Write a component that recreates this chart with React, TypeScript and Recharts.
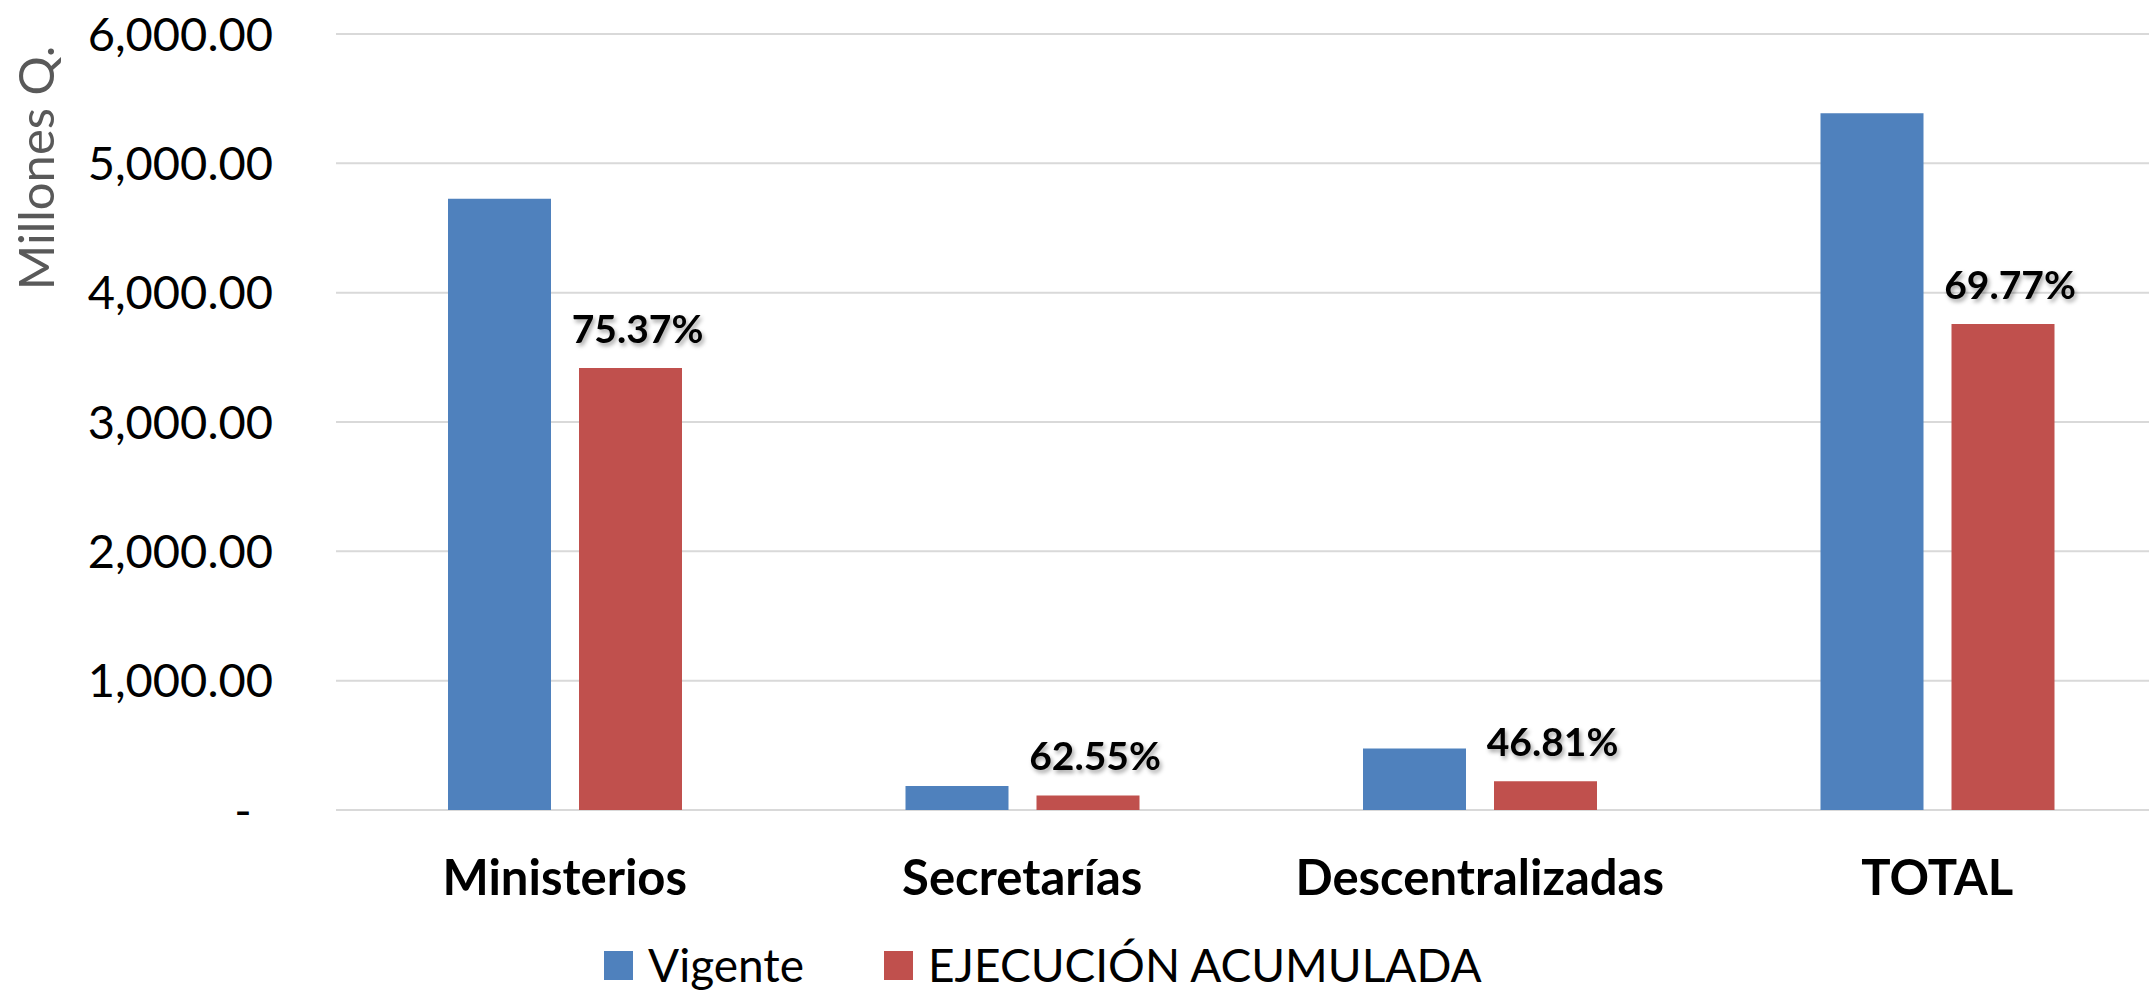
import { Bar, BarChart, CartesianGrid, LabelList, Legend, XAxis, YAxis } from "recharts";

const CATEGORIES = ["Ministerios", "Secretarías", "Descentralizadas", "TOTAL"];
const VIGENTE = [4726, 185, 476, 5388];
const EJECUCION = [3418, 113, 222, 3758];
const PERCENTS = ["75.37%", "62.55%", "46.81%", "69.77%"];
const Y_TICKS = [0, 1000, 2000, 3000, 4000, 5000, 6000];

const BLUE = "#4F81BD";
const RED = "#C0504D";
const FONT = "Lato, 'Noto Sans', sans-serif";

const data = CATEGORIES.map((name, i) => ({
  name,
  vigente: VIGENTE[i],
  ejecucion: EJECUCION[i],
  pct: PERCENTS[i],
}));

const fmt = (v: number) =>
  v === 0 ? "-" : v.toLocaleString("en-US", { minimumFractionDigits: 2, maximumFractionDigits: 2 });

function YTick({ x, y, payload }: any) {
  const zero = payload.value === 0;
  return (
    <text
      x={zero ? x - 30 : x}
      y={y}
      dy="0.355em"
      textAnchor={zero ? "middle" : "end"}
      fill="#000"
      fontSize={47}
      fontFamily={FONT}
    >
      {fmt(payload.value)}
    </text>
  );
}

function XTick({ x, y, payload }: any) {
  return (
    <text x={x} y={y} dy="0.71em" textAnchor="middle" fill="#000" fontSize={49} fontWeight={700} fontFamily={FONT}>
      {payload.value}
    </text>
  );
}

function PctLabel({ x, y, width, index }: any) {
  return (
    <text
      x={x + width / 2 + 7}
      y={y - 25}
      textAnchor="middle"
      fill="#000"
      fontSize={39}
      fontWeight={700}
      fontFamily={FONT}
      style={{ filter: "drop-shadow(2px 3px 2px rgba(0,0,0,0.35))" }}
    >
      {PERCENTS[index]}
    </text>
  );
}

function LegendBox() {
  const items = [
    { label: "Vigente", color: BLUE },
    { label: "EJECUCIÓN ACUMULADA", color: RED },
  ];
  return (
    <div style={{ display: "flex", alignItems: "center", height: 48, paddingLeft: 604, fontFamily: FONT }}>
      {items.map((it) => (
        <span key={it.label} style={{ display: "flex", alignItems: "center", marginRight: 80 }}>
          <span style={{ width: 29, height: 29, background: it.color, marginRight: 15, display: "inline-block" }} />
          <span style={{ fontSize: 46, lineHeight: 1, color: "#000", whiteSpace: "nowrap" }}>{it.label}</span>
        </span>
      ))}
    </div>
  );
}

export default function App() {
  return (
    <div style={{ position: "absolute", left: 0, top: 0, width: 2149, height: 991, overflow: "hidden", background: "#fff" }}>
      <BarChart
        width={2166}
        height={991}
        data={data}
        margin={{ top: 34, right: 0, bottom: 0, left: 0 }}
        barSize={103}
        barGap={28}
      >
        <CartesianGrid vertical={false} stroke="#D9D9D9" strokeWidth={2} />
        <XAxis
          dataKey="name"
          height={131}
          axisLine={false}
          tickLine={false}
          tickSize={0}
          tickMargin={50}
          tick={<XTick />}
          interval={0}
        />
        <YAxis
          width={336}
          domain={[0, 6000]}
          ticks={Y_TICKS}
          axisLine={false}
          tickLine={false}
          tickSize={0}
          tickMargin={63}
          tick={<YTick />}
          interval={0}
          label={{
            content: () => (
              <text
                x={35}
                y={168}
                transform="rotate(-90 35 168)"
                textAnchor="middle"
                dominantBaseline="central"
                fill="#595959"
                fontSize={49}
                fontFamily={FONT}
              >
                Millones Q.
              </text>
            ),
          }}
        />
        <Legend
          verticalAlign="bottom"
          content={<LegendBox />}
          wrapperStyle={{ height: 50, left: 0, width: 2166 }}
        />
        <Bar dataKey="vigente" name="Vigente" fill={BLUE} isAnimationActive={false} />
        <Bar dataKey="ejecucion" name="EJECUCIÓN ACUMULADA" fill={RED} isAnimationActive={false}>
          <LabelList dataKey="pct" content={<PctLabel />} />
        </Bar>
      </BarChart>
    </div>
  );
}
